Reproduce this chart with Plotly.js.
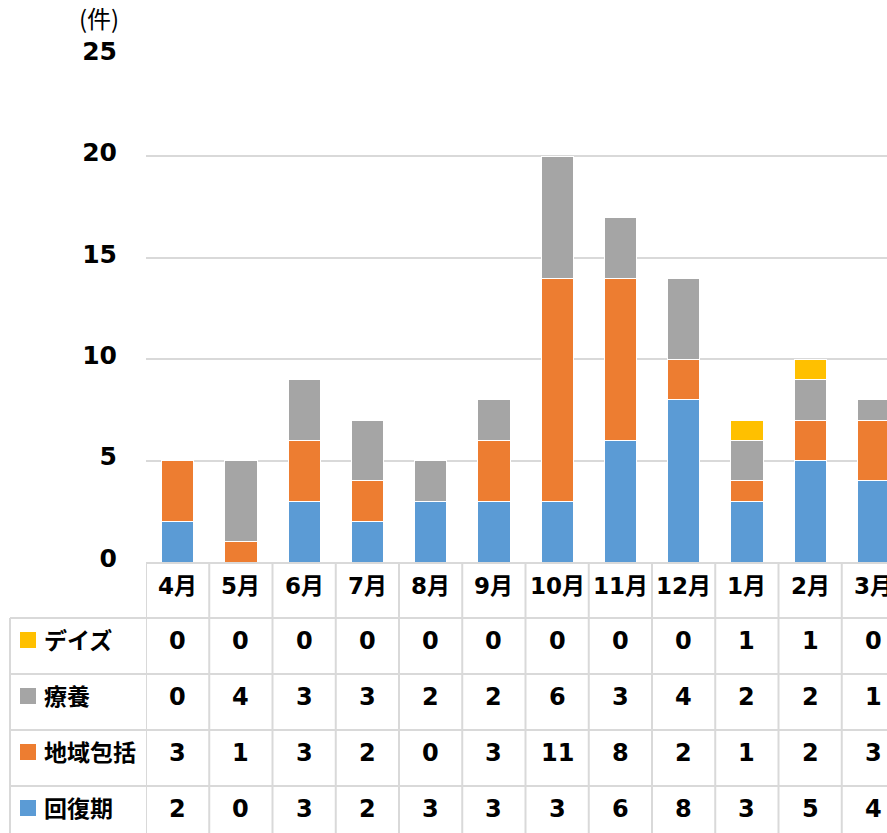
<!DOCTYPE html>
<html><head><meta charset="utf-8">
<script src="https://cdn.plot.ly/plotly-3.0.1.min.js"></script>
<style>html,body{margin:0;padding:0;background:#fff}</style>
</head><body>
<div id="chart" style="width:887px;height:833px"></div>
<script>
const months = ["4月","5月","6月","7月","8月","9月","10月","11月","12月","1月","2月","3月"];
const seriesNames = ["回復期","地域包括","療養","デイズ"];
const kaifukuki = [2,0,3,2,3,3,3,6,8,3,5,4];
const chiiki = [3,1,3,2,0,3,11,8,2,1,2,3];
const ryoyo = [0,4,3,3,2,2,6,3,4,2,2,1];
const days = [0,0,0,0,0,0,0,0,0,1,1,0];
const colors = ["#5B9BD5","#ED7D31","#A5A5A5","#FFC000"];
const yTicks = [0,5,10,15,20,25];

const W = 887, H = 833, T = 55, B = 271, L = 146;
const plotH = H - T - B;
const py = p => (H - B - p) / plotH;          // pixel y -> paper y
const px = p => (p - L) / (W - L);            // pixel x -> paper x
const FONT = "DejaVu Sans, Noto Sans CJK JP, sans-serif";
const grid = "#d9d9d9";

const valuesBySeries = [kaifukuki, chiiki, ryoyo, days];
const traces = valuesBySeries.map((vals, i) => ({
  type: "bar", name: seriesNames[i], x: months, y: vals,
  marker: {color: colors[i], line: {color: "#ffffff", width: 1}},
  hoverinfo: "none"
}));

// table rows (top to bottom): デイズ, 療養, 地域包括, 回復期
const tableRows = [3, 2, 1, 0];
const rowCenters = [641, 697, 753, 809];
const rowLines = [618, 674, 730, 786];

const shapes = [];
const annotations = [];
rowLines.forEach(y => shapes.push({type:"line", xref:"paper", yref:"paper",
  x0: px(10), x1: 1, y0: py(y), y1: py(y), line:{color:grid, width:2}}));
shapes.push({type:"line", xref:"paper", yref:"paper", x0:px(10), x1:px(10),
  y0: py(618), y1: py(H+10), line:{color:grid, width:2}});
for (let i = -1; i < months.length; i++) {
  shapes.push({type:"line", xref:"x", yref:"paper", x0:i+0.5, x1:i+0.5,
    y0: py(562), y1: py(H+10), line:{color:grid, width:2}});
}
months.forEach((m, i) => annotations.push({xref:"x", yref:"paper", x:i, y:py(586),
  text:"<b>"+m+"</b>", showarrow:false, font:{family:FONT, size:23, color:"#000"},
  xanchor:"center", yanchor:"middle"}));
tableRows.forEach((s, r) => {
  const yc = rowCenters[r];
  shapes.push({type:"rect", xref:"paper", yref:"paper", x0:px(20), x1:px(36),
    y0: py(yc-9), y1: py(yc+7), fillcolor: colors[s], line:{width:0}});
  annotations.push({xref:"paper", yref:"paper", x:px(42), y:py(yc), text:"<b>"+seriesNames[s]+"</b>",
    showarrow:false, xanchor:"left", yanchor:"middle", font:{family:FONT, size:23, color:"#000"}});
  valuesBySeries[s].forEach((v, i) => annotations.push({xref:"x", yref:"paper", x:i, y:py(yc),
    text:"<b>"+v+"</b>", showarrow:false, xanchor:"center", yanchor:"middle",
    font:{family:FONT, size:24, color:"#000"}}));
});
annotations.push({xref:"paper", yref:"paper", x:px(99), y:py(17), text:"(件)", showarrow:false,
  xanchor:"center", yanchor:"middle", font:{family:"Noto Sans CJK JP, sans-serif", size:24, color:"#000"}});

const layout = {
  width: W, height: H, barmode: "stack", bargap: 0.49, showlegend: false,
  margin: {l: L, r: 0, t: T, b: B, pad: 0},
  paper_bgcolor: "#fff", plot_bgcolor: "#fff",
  xaxis: {type:"category", range:[-0.5, -0.5 + (W - L)/63.25], showticklabels:false,
    showgrid:false, zeroline:false, showline:true, linecolor:grid, linewidth:2, ticks:""},
  yaxis: {range:[0,25], tickvals:yTicks, ticktext:yTicks.map(v=>"<b>"+v+"</b>"),
    showgrid:true, gridcolor:grid, gridwidth:2, zeroline:false, showline:false, ticks:"",
    ticklabelstandoff: 28, ticklabelshift: -4, tickfont:{family:FONT, size:25, color:"#000"}},
  shapes: shapes, annotations: annotations
};
Plotly.newPlot("chart", traces, layout, {staticPlot:true, displayModeBar:false});
</script>
</body></html>
